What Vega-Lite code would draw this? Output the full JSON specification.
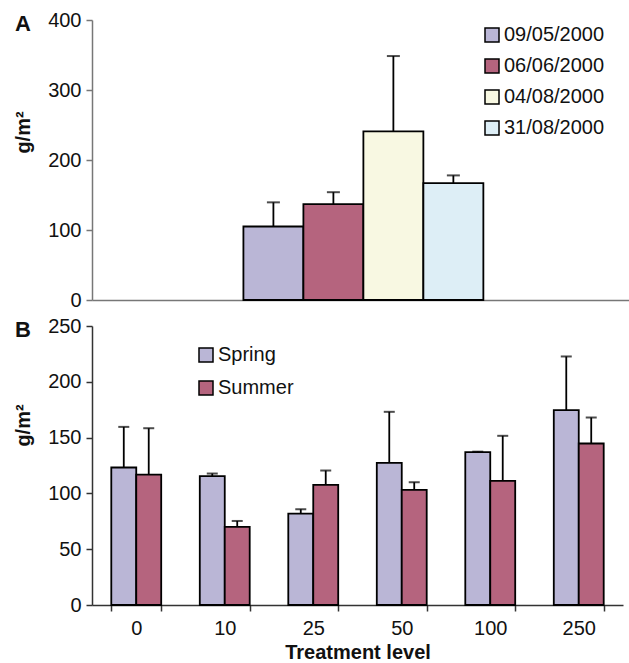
{
  "$schema": "https://vega.github.io/schema/vega-lite/v6.json",
  "padding": {"left": 13, "top": 10, "right": 0, "bottom": 0},
  "spacing": 6,
  "config": {
    "font": "Liberation Sans",
    "view": {"stroke": null},
    "axis": {
      "grid": false,
      "labelFontSize": 20,
      "labelColor": "#111111",
      "titleFontSize": 20,
      "titleFontWeight": "bold",
      "titleColor": "#111111",
      "tickSize": 6,
      "labelPadding": 5
    },
    "legend": {
      "orient": "none",
      "title": null,
      "symbolType": "square",
      "symbolSize": 196,
      "symbolStrokeColor": "black",
      "symbolStrokeWidth": 1.5,
      "symbolOpacity": 1,
      "labelFontSize": 20,
      "labelColor": "#111111",
      "labelOffset": 2,
      "rowPadding": 11,
      "padding": 0
    }
  },
  "resolve": {
    "scale": {"x": "independent", "xOffset": "independent", "y": "independent", "color": "independent"},
    "axis": {"x": "independent", "y": "independent"},
    "legend": {"color": "independent"}
  },
  "vconcat": [
    {
      "width": 538,
      "height": 280,
      "title": {"text": "A", "anchor": "start", "frame": "group", "fontSize": 22, "fontWeight": "bold", "baseline": "middle", "dx": -77, "dy": 36, "offset": 0, "color": "#111111"},
      "data": {
        "values": [
          {"site": "plot", "date": "09/05/2000", "mean": 105, "upper": 139.5},
          {"site": "plot", "date": "06/06/2000", "mean": 137, "upper": 154},
          {"site": "plot", "date": "04/08/2000", "mean": 241, "upper": 348.5},
          {"site": "plot", "date": "31/08/2000", "mean": 167, "upper": 178}
        ]
      },
      "encoding": {
        "x": {
          "field": "site",
          "type": "nominal",
          "scale": {"paddingInner": 0.554, "paddingOuter": 0.277, "align": 0.508},
          "axis": {"title": null, "labels": false, "ticks": false, "domainColor": "#777777", "domainWidth": 1.5}
        },
        "xOffset": {
          "field": "date",
          "type": "nominal",
          "sort": ["09/05/2000", "06/06/2000", "04/08/2000", "31/08/2000"],
          "scale": {"paddingInner": 0, "paddingOuter": 0}
        }
      },
      "layer": [
        {
          "mark": {"type": "bar", "stroke": "black", "strokeWidth": 1.8},
          "encoding": {
            "y": {
              "field": "mean",
              "type": "quantitative",
              "scale": {"domain": [0, 400], "nice": false},
              "axis": {"title": "g/m²", "values": [0, 100, 200, 300, 400], "domainColor": "#777777", "tickColor": "#777777", "domainWidth": 1.5, "tickWidth": 1.5, "titleY": 112, "titlePadding": 14}
            },
            "color": {
              "field": "date",
              "type": "nominal",
              "sort": ["09/05/2000", "06/06/2000", "04/08/2000", "31/08/2000"],
              "scale": {"range": ["#BAB6D6", "#B5647E", "#F8F8E2", "#DDEEF6"]},
              "legend": {"legendX": 390, "legendY": 5}
            }
          }
        },
        {
          "mark": {"type": "rule", "color": "black", "strokeWidth": 1.8},
          "encoding": {
            "y": {"field": "mean", "type": "quantitative", "title": "g/m²"},
            "y2": {"field": "upper"}
          }
        },
        {
          "mark": {"type": "tick", "color": "black", "size": 13, "thickness": 2},
          "encoding": {
            "y": {"field": "upper", "type": "quantitative", "title": "g/m²"}
          }
        }
      ]
    },
    {
      "width": 531,
      "height": 279,
      "title": {"text": "B", "anchor": "start", "frame": "group", "fontSize": 22, "fontWeight": "bold", "baseline": "middle", "dx": -77, "dy": 36, "offset": 0, "color": "#111111"},
      "data": {
        "values": [
          {"treatment": "0", "season": "Spring", "mean": 123.2, "upper": 159.6},
          {"treatment": "0", "season": "Summer", "mean": 116.9, "upper": 158.4},
          {"treatment": "10", "season": "Spring", "mean": 115.4, "upper": 117.8},
          {"treatment": "10", "season": "Summer", "mean": 70, "upper": 75.3},
          {"treatment": "25", "season": "Spring", "mean": 81.9, "upper": 85.8},
          {"treatment": "25", "season": "Summer", "mean": 107.6, "upper": 120.5},
          {"treatment": "50", "season": "Spring", "mean": 127.4, "upper": 173.1},
          {"treatment": "50", "season": "Summer", "mean": 103.1, "upper": 110},
          {"treatment": "100", "season": "Spring", "mean": 136.9, "upper": 137.4},
          {"treatment": "100", "season": "Summer", "mean": 111.2, "upper": 151.6},
          {"treatment": "250", "season": "Spring", "mean": 174.6, "upper": 222.7},
          {"treatment": "250", "season": "Summer", "mean": 144.7, "upper": 168}
        ]
      },
      "encoding": {
        "x": {
          "field": "treatment",
          "type": "nominal",
          "sort": ["0", "10", "25", "50", "100", "250"],
          "scale": {"paddingInner": 0.436, "paddingOuter": 0.218},
          "axis": {"title": "Treatment level", "titleFontSize": 20, "labelAngle": 0, "tickBand": "extent", "domainColor": "#333333", "tickColor": "#333333", "domainWidth": 1.5, "tickWidth": 1.5, "labelPadding": 7, "titlePadding": 4}
        },
        "xOffset": {
          "field": "season",
          "type": "nominal",
          "sort": ["Spring", "Summer"],
          "scale": {"paddingInner": 0, "paddingOuter": 0}
        }
      },
      "layer": [
        {
          "mark": {"type": "bar", "stroke": "black", "strokeWidth": 1.8},
          "encoding": {
            "y": {
              "field": "mean",
              "type": "quantitative",
              "scale": {"domain": [0, 250], "nice": false},
              "axis": {"title": "g/m²", "values": [0, 50, 100, 150, 200, 250], "domainColor": "#333333", "tickColor": "#333333", "domainWidth": 1.5, "tickWidth": 1.5, "titleY": 99, "titlePadding": 14}
            },
            "color": {
              "field": "season",
              "type": "nominal",
              "sort": ["Spring", "Summer"],
              "scale": {"range": ["#BAB6D6", "#B5647E"]},
              "legend": {"legendX": 104, "legendY": 19, "rowPadding": 13}
            }
          }
        },
        {
          "mark": {"type": "rule", "color": "black", "strokeWidth": 1.8},
          "encoding": {
            "y": {"field": "mean", "type": "quantitative", "title": "g/m²"},
            "y2": {"field": "upper"}
          }
        },
        {
          "mark": {"type": "tick", "color": "black", "size": 11, "thickness": 2},
          "encoding": {
            "y": {"field": "upper", "type": "quantitative", "title": "g/m²"}
          }
        }
      ]
    }
  ]
}
